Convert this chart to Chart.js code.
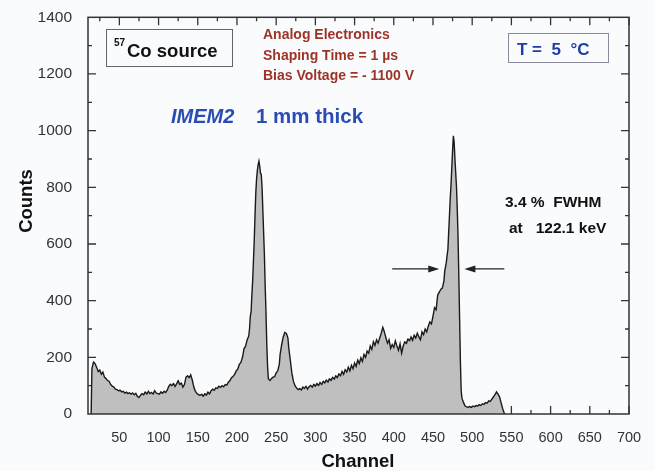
<!DOCTYPE html>
<html>
<head>
<meta charset="utf-8">
<style>
  body { margin: 0; background: #fafbfd; }
  canvas { display: block; }
</style>
</head>
<body>
<canvas id="spectrum" width="655" height="471"></canvas>
<script src="https://cdn.jsdelivr.net/npm/chart.js"></script>
<script>
  // 57Co pulse height spectrum, counts per channel
  const channels = [
    14, 15, 17, 19, 21, 23, 25, 27, 29, 31, 33, 35, 37, 39, 41, 43, 45, 47, 49, 51,
    53, 55, 57, 59, 61, 63, 65, 67, 69, 71, 73, 75, 77, 79, 81, 83, 85, 87, 89, 91,
    93, 95, 97, 99, 101, 103, 105, 107, 109, 111, 113, 115, 117, 119, 121, 123, 125, 127, 129, 131,
    133, 135, 137, 139, 141, 143, 145, 147, 149, 151, 153, 155, 157, 159, 161, 163, 165, 167, 169, 171,
    173, 175, 177, 179, 181, 183, 185, 187, 189, 191, 193, 195, 197, 199, 201, 203, 205, 207, 209, 211,
    213, 215, 216, 217, 218, 219, 220, 221, 222, 223, 224, 225, 226, 227, 228, 229, 230, 231, 232, 233,
    234, 235, 236, 237, 238, 239, 240, 242, 244, 246, 248, 250, 252, 254, 255, 257, 259, 261, 263, 265,
    266, 268, 270, 272, 274, 276, 278, 280, 282, 284, 286, 288, 290, 292, 294, 296, 298, 300, 302, 304,
    306, 308, 310, 312, 314, 316, 318, 320, 322, 324, 326, 328, 330, 332, 334, 336, 338, 340, 342, 344,
    346, 348, 350, 352, 354, 356, 358, 360, 362, 364, 366, 368, 370, 372, 374, 376, 378, 380, 382, 384,
    386, 388, 390, 392, 394, 396, 398, 400, 402, 404, 406, 408, 410, 412, 414, 416, 418, 420, 422, 424,
    426, 428, 430, 432, 434, 436, 438, 440, 442, 444, 446, 448, 450, 452, 454, 456, 458, 460, 462, 464,
    465, 466, 467, 468, 469, 470, 471, 472, 473, 474, 475, 476, 477, 478, 479, 480, 481, 482, 483, 484,
    485, 486, 487, 489, 491, 493, 495, 497, 499, 501, 503, 505, 507, 509, 511, 513, 515, 517, 519, 521,
    523, 525, 527, 529, 531, 533, 535, 537, 539, 541, 542
  ];
  const counts = [
    0, 160, 183, 178, 165, 150, 155, 140, 148, 130, 125, 118, 115, 104, 98, 95, 88, 86, 82, 84,
    78, 80, 74, 77, 72, 75, 70, 74, 68, 73, 62, 58, 66, 72, 68, 78, 70, 80, 72, 76,
    70, 82, 74, 72, 70, 78, 73, 80, 76, 84, 98, 105, 100, 108, 97, 106, 118, 104, 110, 95,
    104, 130, 135, 128, 138, 120, 95, 80, 72, 68, 66, 70, 62, 72, 66, 78, 70, 82, 88, 84,
    92, 90, 98, 94, 100, 96, 104, 102, 112, 118, 128, 132, 140, 152, 158, 175, 182, 200, 230, 240,
    262, 275, 300, 345, 360, 420, 470, 540, 610, 700, 780, 830, 860, 880, 892, 875, 850, 845, 800, 720,
    640, 560, 450, 360, 250, 170, 125, 118, 125, 130, 132, 145, 152, 175, 210, 245, 272, 288, 284, 268,
    235, 190, 145, 115, 100, 92, 86, 90, 84, 95, 90, 98, 88, 96, 102, 94, 105, 98, 108, 100,
    112, 104, 115, 110, 120, 112, 125, 118, 130, 122, 135, 128, 142, 134, 150, 140, 156, 148, 165, 152,
    172, 160, 180, 168, 190, 178, 198, 186, 210, 200, 222, 215, 240, 228, 255, 242, 262, 250, 268, 285,
    306, 290, 268, 250, 262, 232, 245, 235, 258, 240, 225, 248, 215, 240, 255, 248, 265, 258, 272, 260,
    278, 268, 285, 272, 262, 290, 280, 300, 290, 310, 325, 318, 345, 375, 368, 420, 430, 440, 445, 470,
    505, 520, 535, 560, 580, 640, 700, 760, 810, 870, 930, 982, 960, 900, 850, 800, 720, 620, 480, 330,
    180, 80, 55, 40, 28, 25, 24, 26, 23, 28, 26, 30, 28, 33, 30, 36, 34, 40, 38, 46,
    44, 52, 60, 68, 78, 70, 60, 38, 18, 2, 0
  ];

  const channelTicks = [50, 100, 150, 200, 250, 300, 350, 400, 450, 500, 550, 600, 650, 700];
  const countTicks = [0, 200, 400, 600, 800, 1000, 1200, 1400];

  // FWHM marker arrows on the 122.1 keV photopeak: [tail, head] in channels
  const fwhmLevel = 512;
  const fwhmArrows = [[398, 458], [541, 490]];

  const font = "'Liberation Sans', Arial, sans-serif";

  const frame = {
    id: "frame",
    beforeDraw(chart) {
      const ctx = chart.ctx;
      ctx.save();
      ctx.fillStyle = "#fafbfd";
      ctx.fillRect(0, 0, chart.width, chart.height);
      ctx.restore();
    },
    beforeDatasetsDraw(chart) {
      // inward ticks on all four sides, minor ticks halfway between majors
      const { ctx, chartArea: a, scales: { x, y } } = chart;
      ctx.save();
      ctx.strokeStyle = "#333";
      ctx.lineWidth = 1.3;
      ctx.beginPath();
      for (let v = 25; v <= 700; v += 25) {
        if (v < x.min) continue;
        const px = x.getPixelForValue(v);
        const len = v % 50 === 0 ? 8 : 4;
        ctx.moveTo(px, a.bottom); ctx.lineTo(px, a.bottom - len);
        ctx.moveTo(px, a.top); ctx.lineTo(px, a.top + len);
      }
      for (let v = 100; v < 1400; v += 100) {
        const py = y.getPixelForValue(v);
        const len = v % 200 === 0 ? 8 : 4;
        ctx.moveTo(a.left, py); ctx.lineTo(a.left + len, py);
        ctx.moveTo(a.right, py); ctx.lineTo(a.right - len, py);
      }
      ctx.stroke();
      ctx.restore();
    },
    afterDatasetsDraw(chart) {
      const { ctx, chartArea: a, scales: { x, y } } = chart;
      ctx.save();
      ctx.strokeStyle = "#333";
      ctx.lineWidth = 1.5;
      ctx.strokeRect(a.left, a.top, a.right - a.left, a.bottom - a.top);

      // FWHM arrows
      const ay = y.getPixelForValue(fwhmLevel);
      ctx.strokeStyle = "#222";
      ctx.fillStyle = "#222";
      ctx.lineWidth = 1.2;
      fwhmArrows.forEach(([from, to]) => {
        const x0 = x.getPixelForValue(from);
        const x1 = x.getPixelForValue(to);
        const dir = Math.sign(x1 - x0);
        ctx.beginPath();
        ctx.moveTo(x0, ay); ctx.lineTo(x1 - dir * 6, ay);
        ctx.stroke();
        ctx.beginPath();
        ctx.moveTo(x1, ay);
        ctx.lineTo(x1 - dir * 11, ay - 3.5);
        ctx.lineTo(x1 - dir * 11, ay + 3.5);
        ctx.closePath();
        ctx.fill();
      });
      ctx.restore();
    },
    afterDraw(chart) {
      const ctx = chart.ctx;
      ctx.save();
      ctx.textBaseline = "alphabetic";

      // source box
      ctx.strokeStyle = "#666";
      ctx.lineWidth = 1;
      ctx.strokeRect(106.5, 29.5, 126, 37);
      ctx.fillStyle = "#111";
      ctx.font = `bold 10px ${font}`;
      ctx.fillText("57", 114, 46);
      ctx.font = `bold 18.5px ${font}`;
      ctx.fillText("Co source", 127, 57);

      // temperature box
      ctx.strokeStyle = "#8a8a9a";
      ctx.strokeRect(508.5, 33.5, 100, 29);
      ctx.fillStyle = "#1e3da8";
      ctx.font = `bold 17px ${font}`;
      ctx.fillText("T =  5  °C", 517, 55);

      // electronics settings
      ctx.fillStyle = "#9c3329";
      ctx.font = `bold 14px ${font}`;
      ctx.fillText("Analog Electronics", 263, 39);
      ctx.fillText("Shaping Time = 1 \u00b5s", 263, 59.5);
      ctx.fillText("Bias Voltage = - 1100 V", 263, 80);

      // detector label
      ctx.fillStyle = "#2a4db5";
      ctx.font = `italic bold 20px ${font}`;
      ctx.fillText("IMEM2", 171, 123);
      ctx.font = `bold 20.5px ${font}`;
      ctx.fillText("1 mm thick", 256, 123);

      // resolution
      ctx.fillStyle = "#111";
      ctx.font = `bold 15.5px ${font}`;
      ctx.fillText("3.4 %  FWHM", 505, 207);
      ctx.fillText("at   122.1 keV", 509, 233);

      // axis titles
      ctx.font = `bold 18.5px ${font}`;
      ctx.textAlign = "center";
      ctx.fillText("Channel", 358, 467);
      ctx.translate(32, 201);
      ctx.rotate(-Math.PI / 2);
      ctx.fillText("Counts", 0, 0);
      ctx.restore();
    }
  };

  new Chart(document.getElementById("spectrum"), {
    type: "line",
    data: {
      datasets: [{
        data: channels.map((c, i) => ({ x: c, y: counts[i] })),
        fill: "origin",
        backgroundColor: "#bfbfbf",
        borderColor: "#1a1a1a",
        borderWidth: 1.4,
        pointRadius: 0,
        // a tiny tension keeps the area path off the per-pixel fast path
        tension: 0.0001
      }]
    },
    options: {
      responsive: false,
      animation: false,
      layout: { padding: { left: 10, right: 26, top: 14, bottom: 0 } },
      plugins: { legend: { display: false }, tooltip: { enabled: false } },
      scales: {
        x: {
          type: "linear",
          min: 10,
          max: 700,
          afterBuildTicks: s => { s.ticks = channelTicks.map(v => ({ value: v })); },
          afterFit: s => { s.height = 57; },
          grid: { display: false },
          border: { display: false },
          ticks: { color: "#333", font: { family: font, size: 14.5 }, padding: 7, maxRotation: 0, autoSkip: false, callback: v => String(v) }
        },
        y: {
          min: 0,
          max: 1400,
          afterBuildTicks: s => { s.ticks = countTicks.map(v => ({ value: v })); },
          afterFit: s => { s.width = 78; },
          grid: { display: false },
          border: { display: false },
          ticks: { color: "#333", font: { family: font, size: 15.5 }, padding: 8, callback: v => String(v) }
        }
      }
    },
    plugins: [frame]
  });
</script>
</body>
</html>
